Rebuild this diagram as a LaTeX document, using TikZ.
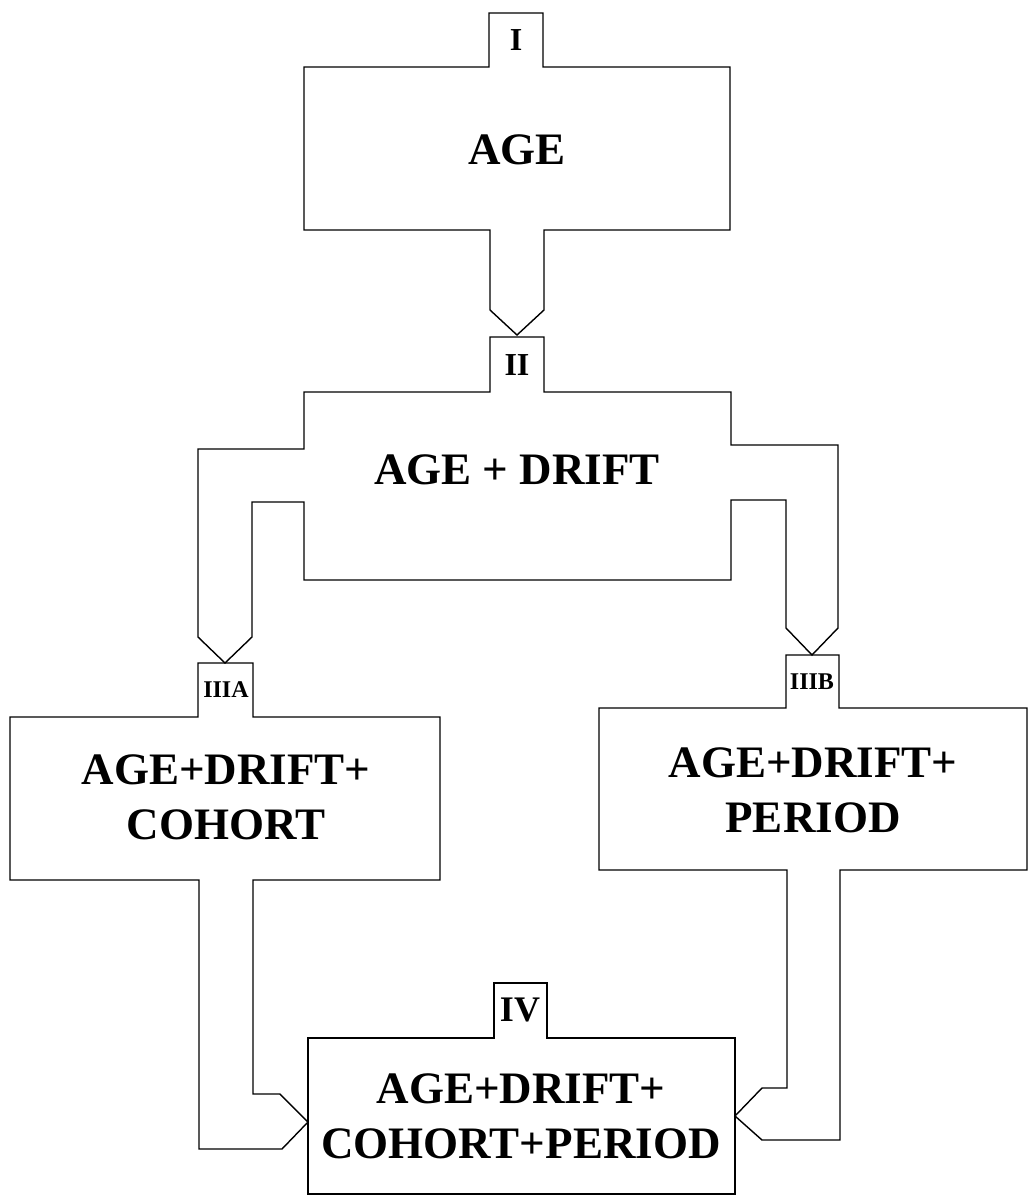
\documentclass[tikz,border=0pt]{standalone}
\usepackage{fontspec}
\setmainfont{Liberation Serif}
\tikzset{
  outline/.style={line width=0.7pt,line join=miter},
  boxtext/.style={font=\fontsize{22.5}{27.5}\selectfont\bfseries,align=center},
  tabtext/.style={font=\fontsize{16}{18}\selectfont\bfseries},
  smalltab/.style={font=\fontsize{12}{14}\selectfont\bfseries}
}
\begin{document}
\begin{tikzpicture}[x=0.5pt,y=-0.5pt]
  \useasboundingbox (0,0) rectangle (1032,1196);
  % I: age
  \draw[outline] (489,13) -- (543,13) -- (543,67) -- (730,67) -- (730,230)
    -- (544,230) -- (544,310) -- (517,335) -- (490,310) -- (490,230)
    -- (304,230) -- (304,67) -- (489,67) -- cycle;
  % II: age + drift
  \draw[outline] (490,337) -- (544,337) -- (544,392) -- (731,392) -- (731,445)
    -- (838,445) -- (838,628) -- (812,655) -- (786,628) -- (786,500)
    -- (731,500) -- (731,580) -- (304,580) -- (304,502) -- (252,502)
    -- (252,637) -- (225,663) -- (198,637) -- (198,449) -- (304,449)
    -- (304,392) -- (490,392) -- cycle;
  % IIIA: cohort
  \draw[outline] (198,663) -- (253,663) -- (253,717) -- (440,717) -- (440,880)
    -- (253,880) -- (253,1094) -- (280,1094) -- (308,1122) -- (282,1149)
    -- (199,1149) -- (199,880) -- (10,880) -- (10,717) -- (198,717) -- cycle;
  % IIIB: period
  \draw[outline] (786,655) -- (839,655) -- (839,708) -- (1027,708) -- (1027,870)
    -- (840,870) -- (840,1140) -- (762,1140) -- (735,1116) -- (762,1088)
    -- (787,1088) -- (787,870) -- (599,870) -- (599,708) -- (786,708) -- cycle;
  % IV: everything
  \draw[outline] (494,983) -- (547,983) -- (547,1038) -- (735,1038) -- (735,1194)
    -- (308,1194) -- (308,1038) -- (494,1038) -- cycle;
  \node[tabtext] (tabI) at (516,40) {I};
  \node[boxtext] (age) at (517,150) {AGE};
  \node[tabtext] (tabII) at (517,365) {II};
  \node[boxtext] (drift) at (517,470) {AGE + DRIFT};
  \node[smalltab] (tabIIIA) at (226,690) {IIIA};
  \node[boxtext] (cohort) at (226,797) {AGE+DRIFT+\\COHORT};
  \node[smalltab] (tabIIIB) at (812,682) {IIIB};
  \node[boxtext] (period) at (813,790) {AGE+DRIFT+\\PERIOD};
  \node[tabtext,font=\fontsize{18}{20}\selectfont\bfseries] (tabIV) at (520,1010) {IV};
  \node[boxtext] (full) at (521,1116) {AGE+DRIFT+\\COHORT+PERIOD};
\end{tikzpicture}
\end{document}
